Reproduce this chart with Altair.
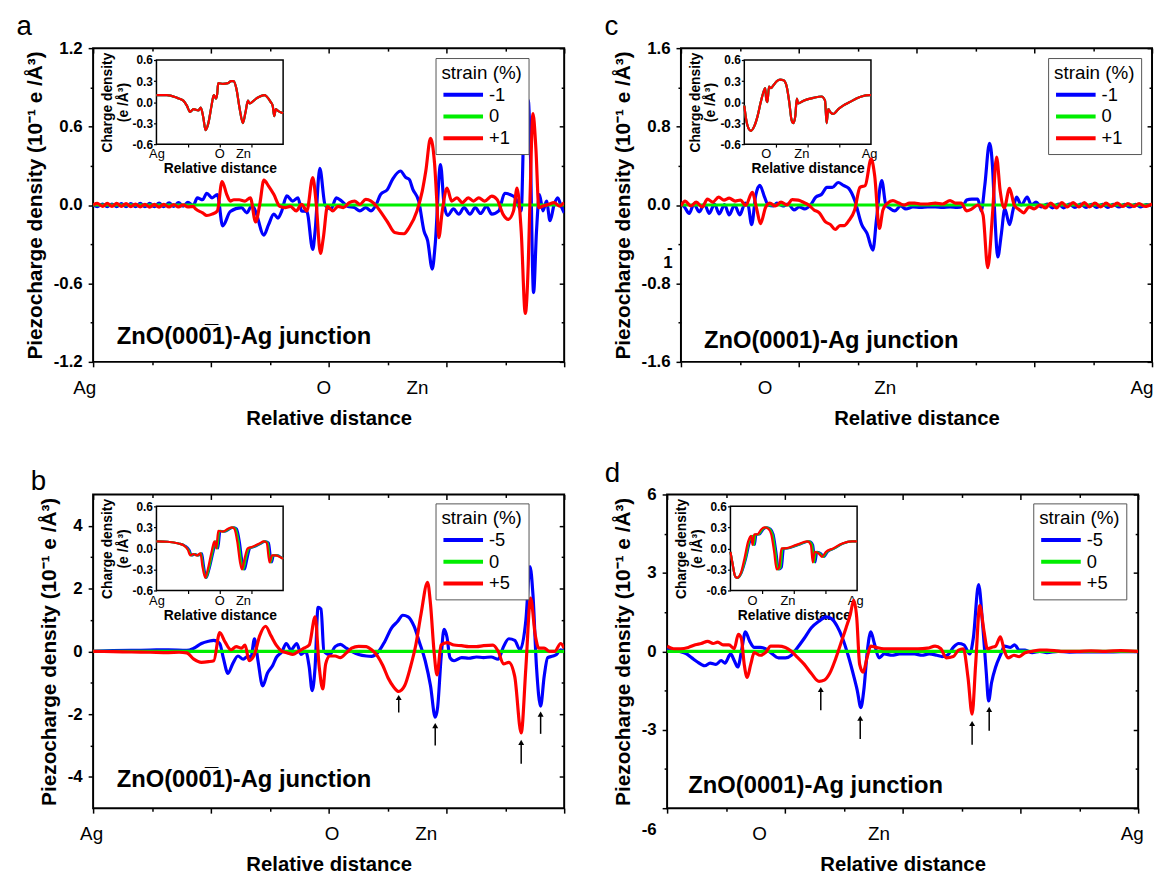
import altair as alt
import pandas as pd

W, H = 476, 317
BLUE, GREEN, RED = "#0000ff", "#00ee00", "#ff0000"
FONT = "Liberation Sans"

# ---------------- panel a : ZnO(000-1)-Ag, strain -1 / 0 / +1 ----------------
a_series = ["-1", "0", "+1"]
a_blue_x = [0.00,0.07,0.16,0.24,0.32,0.40,0.48,0.56,0.64,0.72,0.80,0.88,0.96,1.04,1.12,1.20,1.29,1.37,1.45,1.53,
            1.61,1.70,1.77,1.86,1.93,2.02,2.11,2.20,2.33,2.52,2.61,2.70,2.76,2.90,2.98,3.07,3.14,3.20,3.29,3.39,
            3.48,3.54,3.63,3.73,3.77,3.85,3.94,4.04,4.13,4.22,4.32,4.44,4.53,4.63,4.72,4.81,4.88,5.00,5.09,5.22,
            5.31,5.37,5.43,5.53,5.62,5.68,5.76,5.81,5.90,5.96,6.02,6.12,6.21,6.30,6.40,6.49,6.58,6.68,6.77,6.89,
            6.99,7.08,7.17,7.27,7.33,7.39,7.42,7.48,7.53,7.58,7.64,7.70,7.76,7.83,7.89,7.95,8.00]
a_blue_y = [0.0,-0.012,0.008,-0.012,0.008,-0.012,0.01,-0.012,0.01,-0.012,0.012,-0.012,0.012,-0.012,0.014,-0.012,0.016,-0.01,0.018,-0.008,
            0.02,-0.005,0.055,0.04,0.09,0.055,0.08,-0.16,-0.05,-0.02,-0.06,0.0,-0.05,-0.23,-0.15,-0.07,-0.1,-0.05,0.07,0.03,
            0.055,-0.045,-0.05,-0.34,-0.2,0.28,0.0,-0.03,0.055,0.03,-0.01,-0.02,-0.045,-0.02,-0.045,0.005,0.08,0.12,0.2,0.26,
            0.21,0.195,0.12,0.03,-0.2,-0.27,-0.49,-0.3,0.31,0.005,-0.08,-0.03,-0.07,-0.02,-0.07,-0.02,-0.065,-0.01,-0.07,-0.045,
            0.09,0.08,0.055,-0.045,0.79,0.8,0.51,-0.67,-0.2,0.08,-0.045,0.03,-0.12,0.005,0.055,-0.01,-0.06]
a_red_x = [0.00,0.07,0.16,0.24,0.32,0.40,0.48,0.56,0.64,0.72,0.80,0.88,0.96,1.04,1.12,1.20,1.29,1.37,1.45,1.53,
           1.61,1.70,1.74,1.86,1.93,2.02,2.11,2.19,2.27,2.33,2.39,2.48,2.58,2.67,2.76,2.83,2.90,2.98,3.07,3.17,
           3.26,3.35,3.45,3.54,3.63,3.73,3.79,3.86,3.91,3.98,4.07,4.16,4.25,4.35,4.44,4.53,4.63,4.72,4.81,4.91,
           5.00,5.12,5.28,5.37,5.50,5.59,5.65,5.73,5.80,5.84,5.87,5.93,6.01,6.09,6.18,6.27,6.37,6.46,6.55,6.65,
           6.77,6.86,6.96,7.05,7.14,7.20,7.27,7.34,7.39,7.42,7.47,7.52,7.57,7.64,7.73,7.83,7.92,8.00]
a_red_y = [0.0,0.012,-0.01,0.012,-0.01,0.012,-0.01,0.01,-0.012,0.008,-0.014,0.006,-0.016,0.005,-0.016,0.005,-0.015,0.004,-0.015,0.002,
           -0.015,-0.01,-0.03,-0.06,-0.08,-0.07,-0.045,0.18,0.08,0.03,0.04,0.04,0.03,0.055,-0.13,0.005,0.19,0.145,0.08,-0.01,
           -0.02,-0.01,-0.045,0.005,-0.045,0.21,0.005,-0.37,-0.25,-0.01,-0.045,-0.01,-0.02,0.018,0.03,0.005,0.043,0.03,-0.007,-0.07,
           -0.13,-0.21,-0.22,-0.17,-0.045,0.106,0.26,0.51,0.31,0.005,-0.25,-0.045,0.13,0.03,0.055,0.018,0.055,0.03,0.055,0.03,
           0.068,0.043,-0.07,-0.11,-0.045,0.13,-0.2,-0.83,-0.45,0.05,0.7,0.43,-0.02,-0.008,0.005,0.018,-0.008,0.018]

# ---------------- panel c : ZnO(0001)-Ag, strain -1 / 0 / +1 ----------------
c_series = ["-1", "0", "+1"]
c_blue_x = [0.00,0.06,0.14,0.22,0.31,0.40,0.48,0.57,0.65,0.74,0.82,0.91,1.00,1.09,1.14,1.20,1.27,1.34,1.42,1.48,
            1.57,1.63,1.73,1.82,1.92,2.01,2.10,2.20,2.29,2.39,2.48,2.57,2.67,2.76,2.85,2.95,3.07,3.16,3.26,3.32,
            3.41,3.48,3.54,3.63,3.73,3.82,3.94,4.07,4.19,4.32,4.44,4.57,4.69,4.79,4.85,4.94,5.04,5.10,5.16,5.24,
            5.29,5.33,5.38,5.44,5.50,5.58,5.64,5.70,5.78,5.88,5.95,6.03,6.12,6.22,6.31,6.41,6.50,6.60,6.69,6.79,
            6.88,6.97,7.06,7.16,7.25,7.34,7.44,7.53,7.62,7.72,7.81,7.91,8.00]
c_blue_y = [0.01,-0.02,-0.085,0.01,-0.07,0.01,-0.085,0.01,-0.09,0.005,-0.1,0.0,-0.1,0.02,0.0,-0.2,0.1,0.2,0.08,0.0,
            -0.01,0.02,-0.01,0.01,-0.05,-0.02,-0.04,0.0,0.08,0.11,0.18,0.18,0.23,0.2,0.17,0.05,-0.2,-0.29,-0.46,-0.15,
            0.25,0.0,-0.03,-0.06,-0.01,-0.04,-0.02,-0.025,-0.02,-0.02,-0.025,-0.02,-0.025,-0.01,0.05,0.06,0.06,-0.06,0.2,0.63,
            0.4,-0.1,-0.53,-0.3,-0.04,-0.2,-0.05,0.08,0.0,0.08,0.0,0.03,-0.02,0.01,-0.03,0.01,-0.03,0.01,-0.025,0.01,
            -0.025,0.008,-0.025,0.008,-0.025,0.008,-0.02,0.006,-0.02,0.006,-0.02,0.005,-0.01]
c_red_x = [0.00,0.07,0.17,0.26,0.36,0.45,0.54,0.64,0.73,0.82,0.92,1.01,1.10,1.21,1.29,1.35,1.44,1.51,1.60,1.70,
           1.80,1.89,1.99,2.07,2.17,2.26,2.35,2.45,2.54,2.62,2.70,2.77,2.85,2.95,3.04,3.13,3.23,3.29,3.37,3.43,
           3.51,3.60,3.70,3.79,3.88,3.97,4.07,4.19,4.32,4.44,4.57,4.66,4.76,4.85,4.94,5.04,5.13,5.21,5.29,5.36,
           5.42,5.49,5.58,5.66,5.75,5.82,5.91,6.00,6.10,6.19,6.28,6.38,6.47,6.56,6.66,6.76,6.85,6.94,7.03,7.13,
           7.22,7.31,7.41,7.50,7.59,7.69,7.78,7.88,8.00]
c_red_y = [-0.01,0.04,-0.01,0.03,-0.02,0.06,0.03,0.08,0.05,0.07,0.04,0.05,-0.005,0.13,-0.05,-0.19,-0.02,0.02,-0.01,0.03,
           0.0,0.055,0.05,0.03,0.0,-0.05,-0.08,-0.17,-0.2,-0.25,-0.21,-0.21,-0.16,-0.05,0.18,0.2,0.47,0.3,-0.24,-0.05,
           0.02,0.045,0.02,0.0,0.02,0.02,0.01,0.01,0.02,0.01,0.045,0.02,0.02,-0.06,-0.04,0.0,-0.1,-0.64,-0.1,0.49,
           0.15,-0.03,0.17,0.0,-0.05,-0.08,-0.02,-0.04,0.0,-0.03,0.02,-0.03,0.025,-0.02,0.025,-0.02,0.025,-0.02,0.02,-0.02,
           0.02,-0.015,0.02,-0.015,0.015,-0.015,0.015,-0.015,0.01]

# ---------------- panel b : ZnO(000-1)-Ag, strain -5 / 0 / +5 ----------------
b_series = ["-5", "0", "+5"]
b_blue_x = [0.00,0.34,0.65,0.97,1.28,1.59,1.71,1.84,1.96,2.05,2.15,2.21,2.29,2.37,2.46,2.55,2.63,2.68,2.74,2.80,
            2.88,2.96,3.05,3.11,3.21,3.28,3.36,3.46,3.53,3.61,3.67,3.72,3.77,3.82,3.87,3.92,4.02,4.11,4.20,4.30,
            4.39,4.51,4.64,4.73,4.83,4.95,5.07,5.17,5.26,5.35,5.45,5.54,5.64,5.73,5.81,5.85,5.91,5.96,6.01,6.06,
            6.13,6.26,6.38,6.51,6.63,6.76,6.88,6.97,7.06,7.16,7.25,7.35,7.42,7.47,7.53,7.60,7.66,7.72,7.81,7.87,
            7.94,8.00]
b_blue_y = [0.0,0.02,0.03,0.04,0.05,0.03,0.1,0.25,0.32,0.35,0.25,-0.2,-0.7,-0.4,-0.15,-0.25,-0.15,-0.2,0.4,-0.3,
            -1.1,-0.7,-0.45,-0.2,0.0,0.25,0.05,0.25,-0.1,0.0,-0.5,-1.25,-0.5,1.4,1.35,0.0,-0.1,0.15,0.22,0.1,
            0.0,-0.1,-0.15,-0.16,-0.05,0.3,0.75,0.95,1.15,1.1,0.8,0.3,-0.3,-1.1,-2.1,-1.8,-0.2,0.7,0.45,-0.2,
            -0.3,-0.2,-0.22,-0.18,-0.2,-0.18,-0.25,0.15,0.4,0.35,0.05,1.0,2.7,1.8,-0.5,-1.75,-0.8,-0.2,-0.15,-0.1,
            0.05,0.0]
b_red_x = [0.00,0.34,0.65,0.97,1.28,1.46,1.59,1.71,1.84,1.96,2.05,2.15,2.24,2.34,2.43,2.52,2.58,2.65,2.74,2.83,
           2.93,3.02,3.11,3.21,3.30,3.39,3.49,3.58,3.67,3.77,3.84,3.90,3.95,4.02,4.11,4.20,4.30,4.39,4.51,4.64,
           4.73,4.83,4.92,5.01,5.11,5.19,5.29,5.39,5.48,5.57,5.68,5.73,5.79,5.84,5.91,6.01,6.13,6.26,6.38,6.51,
           6.63,6.79,6.88,6.97,7.06,7.16,7.27,7.35,7.43,7.51,7.57,7.66,7.75,7.84,7.94,8.00]
b_red_y = [0.0,-0.01,-0.02,-0.03,-0.04,-0.03,-0.05,-0.25,-0.35,-0.33,-0.3,0.6,0.3,0.05,0.15,0.1,0.2,-0.3,-0.1,0.5,
           0.8,0.5,0.2,0.0,-0.05,-0.1,0.0,0.1,0.2,1.1,-0.5,-1.2,-0.4,-0.15,-0.15,-0.2,-0.05,0.1,0.16,0.15,
           0.05,-0.15,-0.45,-0.85,-1.15,-1.28,-1.1,-0.5,0.2,1.2,2.2,1.5,0.0,-0.75,0.2,0.28,0.2,0.18,0.15,0.15,
           0.18,0.2,0.0,-0.4,-0.35,-0.8,-2.6,-0.5,1.7,0.5,0.1,0.1,0.0,0.0,0.25,0.1]

# ---------------- panel d : ZnO(0001)-Ag, strain -5 / 0 / +5 ----------------
d_series = ["-5", "0", "+5"]
d_blue_x = [0.00,0.11,0.20,0.33,0.42,0.51,0.64,0.73,0.83,0.92,0.98,1.08,1.14,1.20,1.27,1.33,1.40,1.48,1.58,1.67,
            1.76,1.89,2.01,2.11,2.20,2.33,2.45,2.58,2.70,2.79,2.89,2.98,3.08,3.17,3.23,3.29,3.34,3.40,3.46,3.52,
            3.60,3.69,3.82,3.95,4.08,4.20,4.33,4.45,4.58,4.67,4.76,4.86,4.95,5.04,5.14,5.20,5.29,5.36,5.42,5.46,
            5.51,5.58,5.67,5.73,5.83,5.90,5.98,6.08,6.20,6.33,6.45,6.64,6.83,7.08,7.33,7.58,7.83,8.00]
d_blue_y = [0.1,0.05,0.0,-0.1,-0.25,-0.4,-0.55,-0.45,-0.5,-0.35,-0.45,-0.1,-0.35,-0.6,0.1,0.75,0.4,0.15,0.15,0.1,
            -0.05,-0.25,-0.25,-0.15,0.1,0.5,0.9,1.15,1.32,1.25,0.95,0.5,-0.2,-0.95,-1.5,-2.15,-1.5,0.0,0.75,0.3,
            -0.25,-0.1,-0.15,-0.1,-0.1,-0.1,-0.15,-0.1,-0.15,-0.2,-0.15,0.15,0.3,0.25,-0.1,0.5,2.55,1.0,-0.8,-1.9,
            -1.2,-0.6,-0.1,0.2,0.15,0.25,0.05,0.05,-0.05,0.0,-0.05,0.0,-0.03,-0.02,-0.02,-0.02,-0.01,-0.01]
d_red_x = [0.00,0.11,0.23,0.36,0.48,0.58,0.69,0.78,0.86,0.95,1.05,1.14,1.21,1.26,1.31,1.36,1.42,1.48,1.58,1.67,
           1.76,1.89,2.01,2.11,2.20,2.33,2.45,2.58,2.67,2.76,2.86,2.95,3.04,3.11,3.17,3.22,3.27,3.33,3.39,3.46,
           3.55,3.68,3.83,3.95,4.08,4.26,4.42,4.55,4.65,4.74,4.86,4.95,5.03,5.11,5.18,5.24,5.31,5.38,5.44,5.51,
           5.58,5.66,5.73,5.79,5.89,5.98,6.08,6.20,6.33,6.45,6.70,6.95,7.20,7.45,7.70,8.00]
d_red_y = [0.2,0.1,0.1,0.15,0.25,0.3,0.38,0.3,0.35,0.25,0.25,0.1,0.65,0.5,-0.5,-1.0,-0.5,-0.05,-0.15,-0.05,
           0.2,0.2,0.15,0.0,-0.2,-0.5,-0.85,-1.15,-1.1,-0.85,-0.3,0.3,0.9,1.4,1.95,1.3,-0.5,-0.8,-0.3,0.2,
           0.15,0.1,0.1,0.1,0.1,0.1,0.12,0.2,0.1,-0.25,-0.2,0.05,0.1,-1.0,-2.4,-0.5,1.75,0.8,0.1,0.15,
           0.2,0.55,0.0,-0.25,-0.15,-0.2,-0.05,0.0,0.05,0.05,0.0,0.0,0.02,0.0,0.03,0.0]

# unstrained reference (0 %): zero everywhere
zero_x = [0.0, 8.0]
zero_y = [0.0, 0.0]

# ---------------- insets: charge density (e/Å^3) ----------------
ia_x = [0,0.33,0.65,0.85,0.96,1.06,1.17,1.32,1.40,1.48,1.55,1.64,1.74,1.81,1.88,1.92,1.95,2.10,2.26,2.36,
        2.44,2.52,2.63,2.73,2.81,2.89,2.94,3.15,3.41,3.48,3.61,3.67,3.72,3.77,3.85,3.95,4.0]
ia_y = [0.1,0.1,0.06,0.02,-0.05,-0.14,-0.1,-0.12,-0.08,-0.22,-0.4,-0.3,-0.05,0.1,0.05,0.12,0.27,0.26,0.27,0.3,
        0.3,0.2,-0.1,-0.3,-0.15,0.02,-0.02,0.05,0.1,0.08,0.0,-0.05,-0.2,-0.1,-0.13,-0.15,-0.16]

ib_red_x = [0,0.35,0.70,0.87,0.99,1.07,1.16,1.28,1.39,1.45,1.54,1.62,1.74,1.83,1.89,1.95,2.09,2.26,2.38,2.46,
            2.55,2.64,2.70,2.78,2.88,3.01,3.25,3.39,3.48,3.57,3.65,3.77,3.88,4.0]
ib_green_x = [0,0.35,0.70,0.88,1.01,1.10,1.19,1.30,1.41,1.47,1.56,1.65,1.77,1.86,1.92,1.98,2.12,2.30,2.41,2.50,
              2.59,2.68,2.74,2.82,2.92,3.04,3.28,3.42,3.51,3.60,3.68,3.80,3.90,4.0]
ib_blue_x = [0,0.35,0.70,0.90,1.04,1.12,1.22,1.33,1.44,1.50,1.58,1.67,1.80,1.89,1.95,2.02,2.16,2.33,2.45,2.54,
             2.63,2.72,2.79,2.87,2.96,3.08,3.31,3.45,3.55,3.64,3.71,3.83,3.92,4.0]
ib_y = [0.1,0.095,0.07,0.04,-0.02,-0.1,-0.08,-0.1,-0.07,-0.25,-0.42,-0.3,-0.05,0.1,0.0,0.25,0.24,0.28,0.3,0.28,
        0.1,-0.2,-0.3,-0.15,0.0,0.02,0.07,0.1,0.08,-0.2,-0.1,-0.1,-0.12,-0.15]

ic_x = [0,0.06,0.14,0.21,0.31,0.42,0.52,0.61,0.66,0.69,0.73,0.78,0.84,0.92,1.03,1.13,1.24,1.34,1.42,1.49,
        1.55,1.61,1.66,1.70,1.87,2.18,2.44,2.55,2.60,2.65,2.73,2.81,2.97,3.12,3.33,3.54,3.70,3.96,4.0]
ic_y = [-0.05,-0.25,-0.38,-0.41,-0.35,-0.2,0.0,0.15,0.2,0.05,0.0,0.22,0.2,0.24,0.3,0.32,0.31,0.22,0.0,-0.25,
        -0.3,-0.2,0.05,-0.02,0.02,0.06,0.08,0.02,-0.3,-0.1,-0.15,-0.17,-0.1,-0.05,0.0,0.05,0.08,0.1,0.1]

id_red_x = [0,0.06,0.15,0.21,0.33,0.44,0.56,0.65,0.70,0.75,0.85,0.97,1.08,1.20,1.29,1.38,1.46,1.54,1.61,1.73,
            2.08,2.43,2.54,2.60,2.66,2.78,2.89,3.01,3.24,3.53,3.83,4.0]
id_green_x = [0,0.06,0.15,0.215,0.34,0.47,0.59,0.69,0.74,0.79,0.89,1.01,1.12,1.24,1.33,1.42,1.50,1.58,1.65,1.77,
              2.12,2.47,2.58,2.64,2.70,2.82,2.93,3.04,3.27,3.55,3.84,4.0]
id_blue_x = [0,0.06,0.15,0.22,0.35,0.49,0.62,0.72,0.77,0.82,0.92,1.04,1.15,1.27,1.36,1.45,1.53,1.62,1.69,1.81,
             2.15,2.50,2.61,2.68,2.74,2.86,2.96,3.07,3.29,3.56,3.84,4.0]
id_y = [-0.05,-0.2,-0.4,-0.42,-0.35,-0.15,0.1,0.18,0.05,0.2,0.2,0.27,0.3,0.28,0.2,-0.05,-0.3,-0.27,0.0,0.0,
        0.05,0.1,0.05,-0.2,-0.05,-0.07,-0.12,-0.05,0.0,0.07,0.1,0.1]

# ---------------- axes: ticks and tick labels ----------------
x_ticks = [0, 1, 2, 3, 4, 5, 6, 7, 8]
x_minor = [1, 3, 5, 7]
a_xlab_pos, a_xlab = [0, 3.91, 5.5], ["Ag", "O", "Zn"]
b_xlab_pos, b_xlab = [0, 4.05, 5.65], ["Ag", "O", "Zn"]
c_xlab_pos, c_xlab = [1.42, 3.46, 7.82], ["O", "Zn", "Ag"]
d_xlab_pos, d_xlab = [1.56, 3.59, 7.89], ["O", "Zn", "Ag"]

a_ymajor, a_yminor, a_ylab = [-1.2, -0.6, 0, 0.6, 1.2], [-0.9, -0.3, 0.3, 0.9], ["-1.2", "-0.6", "0.0", "0.6", "1.2"]
b_ymajor, b_yminor, b_ylab = [-4, -2, 0, 2, 4], [-3, -1, 1, 3], ["-4", "-2", "0", "2", "4"]
c_ymajor, c_yminor, c_ylab = [-1.6, -0.8, 0, 0.8, 1.6], [-1.2, -0.4, 0.4, 1.2], ["-1.6", "-0.8", "0.0", "0.8", "1.6"]
d_ymajor, d_yminor, d_ylab = [-6, -3, 0, 3, 6], [-4.5, -1.5, 1.5, 4.5], ["-6", "-3", "0", "3", "6"]

inset_xticks = [1, 2, 3]
iab_lab_pos, iab_lab = [0.0, 1.98, 2.73], ["Ag", "O", "Zn"]
icd_lab_pos, icd_lab = [0.68, 1.8, 3.94], ["O", "Zn", "Ag"]
inset_yticks = [-0.6, -0.3, 0, 0.3, 0.6]
inset_ylab = ["-0.6", "-0.3", "0.0", "0.3", "0.6"]

# arrows (x, tip, tail) in panels b and d
b_arrow_u, b_arrow_tip, b_arrow_tail = [5.19, 5.81, 7.27, 7.60], [-1.47, -2.37, -2.9, -2.0], [-1.95, -3.0, -3.58, -2.63]
d_arrow_u, d_arrow_tip, d_arrow_tail = [2.61, 3.28, 5.18, 5.47], [-1.46, -2.56, -2.76, -2.22], [-2.25, -3.35, -3.57, -3.04]

TXT_BAR = "ZnO(00" + "0\u0305" + "1)-Ag junction"
TXT = "ZnO(0001)-Ag junction"


def js_list(vals):
    return "[" + ",".join(repr(v) for v in vals) + "]"


def lookup_expr(vals, labels):
    out = ""
    for v, l in zip(vals, labels):
        if isinstance(l, list):
            lab = "[" + ",".join("'" + s + "'" for s in l) + "]"
        else:
            lab = "'" + l + "'"
        out += "datum.value === " + repr(v) + " ? " + lab + " : "
    return out + "''"


def in_list(vals):
    return "indexof(" + js_list(vals) + ", datum.value) >= 0"


def cond_num(vals, v_true, v_false):
    return {"condition": {"test": in_list(vals), "value": v_true}, "value": v_false}


def make_panel(p):
    xs = alt.Scale(domain=[0, 8], nice=False, zero=False)
    ys = alt.Scale(domain=p["ydom"], nice=False, zero=False)
    cs = alt.Scale(domain=p["series"], range=[BLUE, GREEN, RED])
    legend = alt.Legend(title="strain (%)", orient="none", legendX=p["lx"], legendY=p["ly"],
                        direction="vertical", symbolType="stroke", symbolSize=1600,
                        symbolStrokeWidth=4, labelFontSize=18.5, labelFont=FONT, titleFontSize=19,
                        titleFontWeight="normal", titleFont=FONT, titlePadding=3, labelOffset=4,
                        rowPadding=3, padding=6, strokeColor="#555555", fillColor="white",
                        clipHeight=18, labelColor="black", titleColor="black")
    color = alt.Color("s:N", scale=cs, legend=legend)

    s0, s1, s2 = p["series"]
    main_df = pd.concat([
        pd.DataFrame({"u": p["bx"], "v": p["by"], "s": s0}),
        pd.DataFrame({"u": zero_x, "v": zero_y, "s": s1}),
        pd.DataFrame({"u": p["rx"], "v": p["ry"], "s": s2}),
    ], ignore_index=True)

    ymaj, ymin = p["ymajor"], p["yminor"]
    y_vals = ymaj + ymin
    ylab_vals = ymaj + p.get("yextra_pos", [])
    ylab_txt = p["ylab"] + p.get("yextra_lab", [])
    y_axis = alt.Axis(values=y_vals, labelExpr=lookup_expr(ylab_vals, ylab_txt),
                      tickSize=cond_num(ymin, 3, 5),
                      labelOffset=cond_num(p.get("yoff_vals", [999]), p.get("yoff", 0), 0),
                      labelLineHeight=16,
                      labelFontSize=17, labelFontWeight="bold", labelPadding=6, labelFlush=False,
                      labelOverlap=False, title="Piezocharge density (10\u207b\u00b9 e /\u00c5\u00b3)",
                      titleFontSize=21, titleFontWeight="bold", titlePadding=8)
    xlab_only = [v for v in p["xlab_pos"] if v not in x_ticks]
    x_vals = x_ticks + xlab_only
    x_axis = alt.Axis(values=x_vals, labelExpr=lookup_expr(p["xlab_pos"], p["xlab"]),
                      tickSize=cond_num(x_minor, 3, 5),
                      tickOpacity=cond_num(xlab_only, 0, 1),
                      labelOffset=cond_num([0], p.get("ag_off", 0), 0),
                      labelFontSize=19, labelPadding=12, labelFlush=False, labelOverlap=False,
                      title="Relative distance", titleFontSize=20.5, titleFontWeight="bold", titlePadding=11)

    lines = alt.Chart(main_df).mark_line(strokeWidth=3.2, clip=True, interpolate="monotone").encode(
        x=alt.X("u:Q", scale=xs, axis=x_axis),
        y=alt.Y("v:Q", scale=ys, axis=y_axis),
        color=color,
    )
    # mirrored inward ticks on top and right edges
    inward = alt.Chart(pd.DataFrame({"u": zero_x, "v": zero_y})).mark_line(opacity=0).encode(
        x=alt.X("u:Q", scale=xs, axis=alt.Axis(orient="bottom", offset=-H, values=x_ticks, labels=False,
                                                title=None, domain=False, tickSize=cond_num(x_minor, 3, 5))),
        y=alt.Y("v:Q", scale=ys, axis=alt.Axis(orient="left", offset=-W, values=y_vals, labels=False,
                                                title=None, domain=False, tickSize=cond_num(ymin, 3, 5))),
    )
    text = alt.Chart(pd.DataFrame({"u": [p["tu"]], "v": [p["tv"]], "t": [p["text"]]})).mark_text(
        align="left", baseline="middle", fontSize=24, fontWeight="bold", font=FONT, color="black"
    ).encode(x=alt.X("u:Q", scale=xs, axis=None), y=alt.Y("v:Q", scale=ys, axis=None), text="t:N")

    layers = [lines, inward, text]
    if "arrow_u" in p:
        adf = pd.DataFrame({"u": p["arrow_u"], "tip": p["arrow_tip"], "tail": p["arrow_tail"]})
        layers.append(alt.Chart(adf).mark_rule(color="black", strokeWidth=1.5).encode(
            x=alt.X("u:Q", scale=xs, axis=None), y=alt.Y("tail:Q", scale=ys, axis=None), y2="tip:Q"))
        layers.append(alt.Chart(adf).mark_point(shape="triangle-up", filled=True, size=36, color="black",
                                                opacity=1).encode(
            x=alt.X("u:Q", scale=xs, axis=None), y=alt.Y("tip:Q", scale=ys, axis=None)))
    main = alt.layer(*layers).resolve_axis(x="independent", y="independent")

    # ---- inset ----
    ixs = alt.Scale(domain=[0, 4], range=[64, 192], nice=False, zero=False)
    iys = alt.Scale(domain=[-0.6, 0.6], range=[97, 12], nice=False, zero=False)
    inset_df = pd.concat([
        pd.DataFrame({"u": p["ibx"], "v": p["iy"], "s": s0}),
        pd.DataFrame({"u": p["igx"], "v": p["iy"], "s": s1}),
        pd.DataFrame({"u": p["irx"], "v": p["iy"], "s": s2}),
    ], ignore_index=True)
    ix_axis = alt.Axis(orient="bottom", offset=-(H - 97), values=inset_xticks + p["ilab_pos"],
                       labelExpr=lookup_expr(p["ilab_pos"], p["ilab"]),
                       tickOpacity=cond_num(p["ilab_pos"], 0, 1),
                       tickSize=3, tickWidth=1.2, labelFontSize=13, labelPadding=1, labelFlush=False,
                       labelOverlap=False, domain=False, title="Relative distance", titleFontSize=14,
                       titleFontWeight="bold", titlePadding=1)
    iy_axis = alt.Axis(orient="left", offset=-64, values=inset_yticks,
                       labelExpr=lookup_expr(inset_yticks, inset_ylab), tickSize=3, tickWidth=1.2,
                       labelFontSize=12, labelFontWeight="bold", labelPadding=1, labelFlush=False,
                       labelOverlap=False, domain=False, title=["Charge density", "(e /\u00c5\u00b3)"],
                       titleFontSize=14, titleFontWeight="bold", titlePadding=2, titleLineHeight=16)
    ilines = alt.Chart(inset_df).mark_line(strokeWidth=2.2, interpolate="monotone").encode(
        x=alt.X("u:Q", scale=ixs, axis=ix_axis),
        y=alt.Y("v:Q", scale=iys, axis=iy_axis),
        color=color,
    )
    iframe = alt.Chart(pd.DataFrame({"x0": [0], "x1": [4], "y0": [-0.6], "y1": [0.6]})).mark_rect(
        fill="white", fillOpacity=0, stroke="black", strokeWidth=1.5
    ).encode(x=alt.X("x0:Q", scale=ixs, axis=None), x2="x1:Q",
             y=alt.Y("y0:Q", scale=iys, axis=None), y2="y1:Q")
    inset = alt.layer(iframe, ilines).resolve_axis(x="independent", y="independent")

    return alt.layer(main, inset).resolve_scale(x="independent", y="independent").properties(
        width=W, height=H,
        title=alt.Title(p["letter"], anchor="start", frame="bounds", fontSize=28, fontWeight="normal",
                        font=FONT, color="black", dx=-8, offset=-2),
    )


pa = dict(letter="a", series=a_series, ydom=[-1.2, 1.2], bx=a_blue_x, by=a_blue_y, rx=a_red_x, ry=a_red_y,
          ymajor=a_ymajor, yminor=a_yminor, ylab=a_ylab, xlab_pos=a_xlab_pos, xlab=a_xlab, ag_off=-9,
          lx=346, ly=10, tu=0.40, tv=-1.01, text=TXT_BAR,
          ibx=ia_x, igx=ia_x, irx=ia_x, iy=ia_y, ilab_pos=iab_lab_pos, ilab=iab_lab)
pb = dict(letter="b", series=b_series, ydom=[-5, 5], bx=b_blue_x, by=b_blue_y, rx=b_red_x, ry=b_red_y,
          ymajor=b_ymajor, yminor=b_yminor, ylab=b_ylab, xlab_pos=b_xlab_pos, xlab=b_xlab, ag_off=-2,
          lx=346, ly=9, tu=0.40, tv=-4.1, text=TXT_BAR,
          arrow_u=b_arrow_u, arrow_tip=b_arrow_tip, arrow_tail=b_arrow_tail,
          ibx=ib_blue_x, igx=ib_green_x, irx=ib_red_x, iy=ib_y, ilab_pos=iab_lab_pos, ilab=iab_lab)
pc = dict(letter="c", series=c_series, ydom=[-1.6, 1.6], bx=c_blue_x, by=c_blue_y, rx=c_red_x, ry=c_red_y,
          ymajor=c_ymajor, yminor=c_yminor, ylab=c_ylab, xlab_pos=c_xlab_pos, xlab=c_xlab,
          yextra_pos=[-0.4], yextra_lab=[["-", "1"]], yoff_vals=[-0.4], yoff=3,
          lx=371, ly=10, tu=0.39, tv=-1.39, text=TXT,
          ibx=ic_x, igx=ic_x, irx=ic_x, iy=ic_y, ilab_pos=icd_lab_pos, ilab=icd_lab)
pd_ = dict(letter="d", series=d_series, ydom=[-6, 6], bx=d_blue_x, by=d_blue_y, rx=d_red_x, ry=d_red_y,
           ymajor=d_ymajor, yminor=d_yminor, ylab=d_ylab, xlab_pos=d_xlab_pos, xlab=d_xlab,
           yoff_vals=[-6], yoff=22,
           lx=370, ly=9, tu=0.36, tv=-5.16, text=TXT,
           arrow_u=d_arrow_u, arrow_tip=d_arrow_tip, arrow_tail=d_arrow_tail,
           ibx=id_blue_x, igx=id_green_x, irx=id_red_x, iy=id_y, ilab_pos=icd_lab_pos, ilab=icd_lab)

top = alt.hconcat(make_panel(pa), make_panel(pc), spacing=37).resolve_scale(
    color="independent", x="independent", y="independent")
bottom = alt.hconcat(make_panel(pb), make_panel(pd_), spacing=37).resolve_scale(
    color="independent", x="independent", y="independent")
chart = alt.vconcat(top, bottom, spacing=29).resolve_scale(
    color="independent", x="independent", y="independent"
).properties(padding={"left": 7, "top": 0, "right": 0, "bottom": 0}).configure(
    font=FONT
).configure_view(stroke="black", strokeWidth=2).configure_axis(
    grid=False, domain=False, tickColor="black", tickWidth=1.5, labelColor="black", titleColor="black",
    labelFont=FONT, titleFont=FONT
)

chart.save("out.html", embed_options={"renderer": "svg", "actions": False})
